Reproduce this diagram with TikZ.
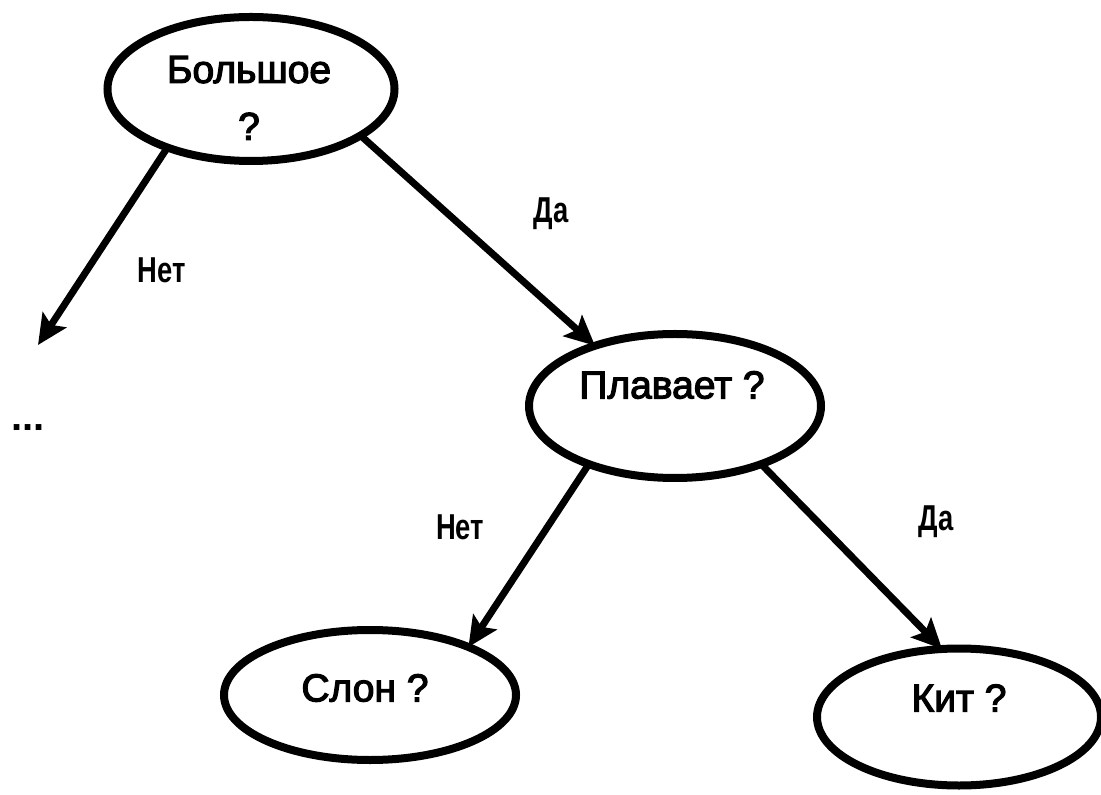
\documentclass[tikz,border=0pt]{standalone}
\usepackage{fontspec}
\setmainfont{Liberation Sans}
\newfontfamily\heavy[FakeBold=3]{Liberation Sans}
\newfontfamily\narrowbold[FakeStretch=0.76]{Liberation Sans Bold}
\usetikzlibrary{shapes.geometric,arrows.meta}
\tikzset{
  question/.style={ellipse, draw, line width=4pt, outer sep=0pt, inner sep=0pt},
  qtext/.style={font=\heavy\fontsize{19.5}{28.5}\selectfont, align=center, inner sep=0pt},
  answer/.style={font=\narrowbold\fontsize{18}{20}\selectfont, inner sep=0pt},
  branch/.style={line width=3.5pt, -{Stealth[length=15pt,width=14pt,inset=3pt]}}
}
\begin{document}
\begin{tikzpicture}[x=0.5pt,y=-0.5pt]
  \useasboundingbox (0,0) rectangle (1101,795);

  % question ellipses
  \node[question, minimum width=143.5pt, minimum height=72pt] (big)  at (251,89)  {};
  \node[question, minimum width=146pt,   minimum height=72pt] (swim) at (675,406) {};
  \node[question, minimum width=146pt,   minimum height=65pt] (elephant) at (370,695) {};
  \node[question, minimum width=142pt,   minimum height=68.5pt] (whale) at (959,717) {};

  % texts inside the ellipses
  \node[qtext] (bigtext)   at (249,98)  {Большое\\?};
  \node[qtext] (swimtext)  at (672,385) {Плавает ?};
  \node[qtext] (eletext)   at (365,688) {Слон ?};
  \node[qtext] (whaletext) at (959,698) {Кит ?};

  % continuation of the "no" branch
  \coordinate (more) at (38,345);
  \node[font=\bfseries\fontsize{20}{22}\selectfont, inner sep=0pt] (dots) at (28,428) {...};

  % branches
  \draw[branch] (big.215.7) -- (more);
  \draw[branch] (big.337)   -- (swim.143.7);
  \draw[branch] (swim.214)  -- (elephant.26.6);
  \draw[branch] (swim.326)  -- (whale.104.7);

  % branch labels
  \node[answer] (no1)  at (162,270) {Нет};
  \node[answer] (yes1) at (551,214) {Да};
  \node[answer] (no2)  at (460,527) {Нет};
  \node[answer] (yes2) at (936,522) {Да};
\end{tikzpicture}
\end{document}
